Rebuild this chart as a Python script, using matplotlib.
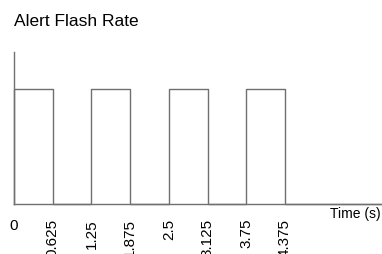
import numpy as np
import matplotlib
matplotlib.use("Agg")
import matplotlib.pyplot as plt

plt.rcParams['font.family'] = ['Liberation Sans', 'DejaVu Sans']

title = "Alert Flash Rate"
xlabel = "Time (s)"
times = [0, 0, 0.625, 1.25, 1.875, 2.5, 3.125, 3.75, 4.375, 6.0]
levels = [0, 1, 0, 1, 0, 1, 0, 1, 0, 0]
tick_vals = [0, 0.625, 1.25, 1.875, 2.5, 3.125, 3.75, 4.375]
tick_labels = ["0", "0.625", "1.25", "1.875", "2.5", "3.125", "3.75", "4.375"]

fig = plt.figure(figsize=(3.82, 2.55), dpi=100)
ax = fig.add_axes([14/382, 50/255, 368/382, 152/255])
ax.plot(times, levels, drawstyle='steps-post', color='#707070', lw=1.0, clip_on=False)
ax.set_xlim(0, 5.94)
ax.set_ylim(0, 1.32)
for s in ['top', 'right']:
    ax.spines[s].set_visible(False)
for s in ['left', 'bottom']:
    ax.spines[s].set_color('#707070')
    ax.spines[s].set_linewidth(1.0)
ax.set_yticks([])
ax.set_xticks(tick_vals)
ax.set_xticklabels(tick_labels, rotation=90, fontsize=11)
ax.tick_params(axis='x', length=0, pad=10)
for i, lbl in enumerate(ax.get_xticklabels()):
    lbl.set_va('top')
    lbl.set_ha('center')
    if i == 0:
        lbl.set_rotation(0)
fig.text(14/382, 1 - 26/255, title, fontsize=12.5, ha='left', va='baseline')
fig.text(381/382, 1 - 218/255, xlabel, fontsize=10, ha='right', va='baseline')
fig.savefig('out.png', dpi=100)
